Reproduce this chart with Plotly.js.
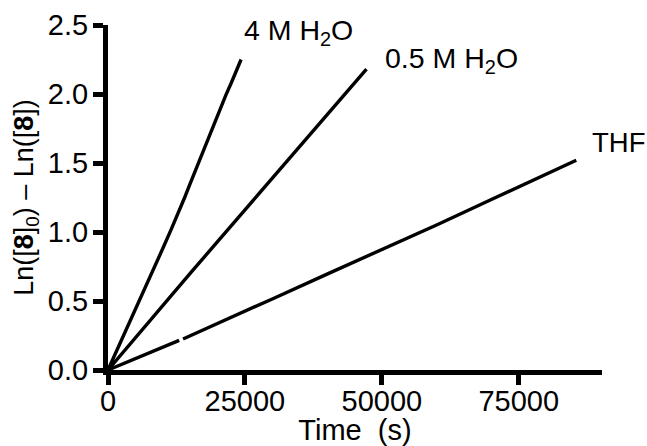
<!DOCTYPE html>
<html><head><meta charset="utf-8">
<script src="https://cdn.plot.ly/plotly-3.0.1.min.js"></script>
<style>html,body{margin:0;padding:0;background:#fff}#c{width:647px;height:446px}</style>
</head><body><div id="c"></div>
<script>
// Time (s) and Ln([8]0) - Ln([8])
const t4M   = [0, 1500, 2500, 4000, 5000, 6500, 7500, 9000, 10000, 11500, 12500, 14000, 15000, 16500, 17500, 19000, 20000, 21500, 22500, 23500, 24300];
const y4M   = [0, 0.13, 0.22, 0.35, 0.44, 0.57, 0.655, 0.79, 0.88, 1.015, 1.105, 1.25, 1.35, 1.50, 1.60, 1.75, 1.845, 1.99, 2.08, 2.175, 2.25];
const t05M  = [0, 5000, 10000, 15000, 20000, 25000, 30000, 35000, 40000, 45000, 47200];
const y05M  = [0, 0.235, 0.465, 0.70, 0.93, 1.16, 1.39, 1.62, 1.85, 2.08, 2.18];
const tTHF  = [0, 5000, 10000, 13000, 13300, 13700, 20000, 25000, 30000, 40000, 50000, 53400, 60000, 70000, 80000, 85500];
const yTHF  = [0, 0.085, 0.165, 0.215, null, 0.225, 0.335, 0.425, 0.515, 0.695, 0.87, 0.93, 1.051, 1.235, 1.419, 1.52];
const xTicks = [0, 25000, 50000, 75000];
const yTicks = [0, 0.5, 1.0, 1.5, 2.0, 2.5];
const labels = ['4 M H<sub>2</sub>O', '0.5 M H<sub>2</sub>O', 'THF'];

const F = 'Liberation Sans, Arial, Helvetica, sans-serif';
const FS = 29;
const lineStyle = {color: '#000', width: 3.4};
const traces = [
  {x: t4M, y: y4M, mode: 'lines', line: lineStyle, connectgaps: false},
  {x: t05M, y: y05M, mode: 'lines', line: lineStyle, connectgaps: false},
  {x: tTHF, y: yTHF, mode: 'lines', line: lineStyle, connectgaps: false}
];
const annPos = [[24400, 2.45], [50300, 2.25], [88000, 1.645]];
const layout = {
  width: 647, height: 446,
  margin: {l: 108, r: 45, t: 25, b: 76},
  paper_bgcolor: '#fff', plot_bgcolor: '#fff',
  showlegend: false,
  font: {family: F, color: '#000', size: FS},
  xaxis: {
    range: [0, 90200], tickvals: xTicks, tickformat: 'd',
    showline: true, linewidth: 5, linecolor: '#000', mirror: false,
    ticks: 'outside', ticklen: 10, tickwidth: 5, tickcolor: '#000',
    ticklabelstandoff: -9,
    showgrid: false, zeroline: false,
    tickfont: {family: F, size: FS, color: '#000'},
    title: {text: 'Time  (s)', font: {family: F, size: FS, color: '#000'}, standoff: 15}
  },
  yaxis: {
    range: [0, 2.5], tickvals: yTicks, tickformat: '.1f',
    showline: true, linewidth: 5, linecolor: '#000',
    ticks: 'outside', ticklen: 10, tickwidth: 5, tickcolor: '#000',
    ticklabelstandoff: -1,
    showgrid: false, zeroline: false,
    tickfont: {family: F, size: FS, color: '#000'},
    title: {text: 'Ln([<b>8</b>]<sub>0</sub>) – Ln([<b>8</b>])', font: {family: F, size: 27, color: '#000'}, standoff: 8}
  },
  annotations: labels.map((s, i) => ({
    x: annPos[i][0], y: annPos[i][1], xref: 'x', yref: 'y',
    text: s, showarrow: false, xanchor: 'left', yanchor: 'middle',
    font: {family: F, size: i === 2 ? 27.5 : 28.5, color: '#000'}
  }))
};
Plotly.newPlot('c', traces, layout, {displayModeBar: false, staticPlot: true});
</script></body></html>
